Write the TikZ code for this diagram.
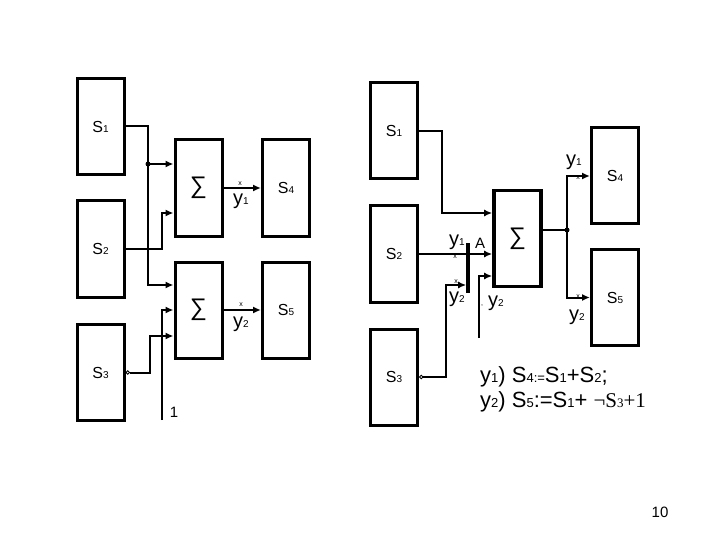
\documentclass[tikz,border=0pt]{standalone}
\usepackage{fontspec}
\setmainfont{Liberation Sans}
\newfontfamily\serifface{Liberation Serif}
\usetikzlibrary{positioning,arrows.meta,calc}
\newcommand{\subs}[1]{{\fontsize{10}{10}\selectfont #1}}
\newcommand{\esub}[1]{{\fontsize{13}{13}\selectfont #1}}
\newcommand{\sumsign}{{\fontsize{24}{24}\selectfont ∑}}
\tikzset{
  block/.style={draw,line width=3pt,minimum width=47pt,minimum height=96pt,
    inner sep=0pt,font=\fontsize{16}{16}\selectfont},
  sumblock/.style={block,line width=3.6pt},
  flow/.style={-{Latex[length=8pt,width=7pt]},line width=2pt},
  invflow/.style={{Circle[open,length=4.5pt,width=4.5pt,line width=1pt]}-{Latex[length=8pt,width=7pt]},line width=2pt},
  wire/.style={line width=2pt},
  bar/.style={line width=3.6pt},
  lbl/.style={font=\fontsize{20}{20}\selectfont,inner sep=0pt},
  eqn/.style={font=\fontsize{22}{22}\selectfont,inner sep=0pt,anchor=west},
  xmark/.style={font=\fontsize{7}{7}\selectfont,inner sep=0pt},
  dot/.style={circle,fill,inner sep=0pt,minimum size=5pt}
}
\begin{document}
\begin{tikzpicture}[x=1pt,y=-1pt]
  \useasboundingbox (0,0) rectangle (720,540);

  % left circuit
  \node[block] (s1L) at (100.5,126.5) {S\subs{1}};
  \node[block] (s2L) at (100.5,249) {S\subs{2}};
  \node[block] (s3L) at (100.5,372.5) {S\subs{3}};
  \node[block] (sumA) at (198.5,188) {\sumsign};
  \node[block] (s4L) at (286,188) {S\subs{4}};
  \node[block] (sumB) at (198.5,310) {\sumsign};
  \node[block] (s5L) at (286,310) {S\subs{5}};

  \coordinate (tapL) at (148,164);
  \coordinate (oneL) at (162,420);
  \draw[flow] (s1L.east) -| (148,285) -- (sumB.west |- 0,285);
  \node[dot] (tapdot) at (tapL) {};
  \draw[flow] (tapdot.center) -- (sumA.west |- tapL);
  \draw[flow] (s2L.east) -| (162,213) -- (sumA.west |- 0,213);
  \draw[flow] (oneL) |- (sumB.west);
  \draw[invflow] (s3L.east) -| (150,336) -- (sumB.west |- 0,336);
  \node[lbl,font=\fontsize{15}{15}\selectfont] (oneval) at (174,412) {1};

  \draw[flow] (sumA.east) -- (s4L.west);
  \node[lbl] (y1L) at (241,201) {y\subs{1}};
  \node[xmark] (x1L) at (240,184) {x};
  \draw[flow] (sumB.east) -- (s5L.west);
  \node[lbl] (y2L) at (241,324) {y\subs{2}};
  \node[xmark] (x2L) at (241,305) {x};

  % right circuit
  \node[block] (s1R) at (394,131) {S\subs{1}};
  \node[block] (s2R) at (394,254) {S\subs{2}};
  \node[block] (s3R) at (394,377) {S\subs{3}};
  \node[sumblock] (sumC) at (517.5,238.5) {\sumsign};
  \node[block] (s4R) at (615,176) {S\subs{4}};
  \node[block] (s5R) at (615,297.5) {S\subs{5}};

  \coordinate (barT) at (468,243);
  \coordinate (barB) at (468,293);
  \coordinate (y2in) at (479,338);
  \coordinate (forkR) at (567,230);
  \draw[flow] (s1R.east) -| (442,213) -- (sumC.west |- 0,213);
  \draw[flow] (s2R.east) -- (sumC.west |- s2R.east);
  \draw[bar] (barT) -- (barB);
  \draw[invflow] (s3R.east) -| (446,285) -- ($(barT |- 0,285)+(-1.8,0)$);
  \draw[flow] (y2in) |- (sumC.west |- 0,276);
  \draw[wire] (sumC.east |- forkR) -- (forkR);
  \node[dot] (forkdot) at (forkR) {};
  \draw[flow] (forkdot.center) |- (s4R.west);
  \draw[flow] (forkdot.center) |- (s5R.west);

  \node[lbl] (y1a) at (457,242) {y\subs{1}};
  \node[xmark] (x1a) at (455,257) {x};
  \node[lbl,font=\fontsize{15}{15}\selectfont] (Aval) at (480,243) {A};
  \node[lbl] (y2a) at (457,299) {y\subs{2}};
  \node[xmark] (x2a) at (456,282) {x};
  \node[xmark] (x2b) at (482,306) {,};
  \node[lbl] (y2b) at (496,303) {y\subs{2}};
  \node[lbl] (y1b) at (574,162) {y\subs{1}};
  \node[xmark] (x1b) at (578,178) {x};
  \node[lbl] (y2c) at (577,317) {y\subs{2}};
  \node[xmark] (x2c) at (578,297) {x};

  % equations
  \node[eqn] (eq1) at (480,377)
    {y\esub{1}) S\esub{4:=}S\esub{1}+S\esub{2};};
  \node[eqn] (eq2) at (480,402)
    {y\esub{2}) S\esub{5}:=S\esub{1}+ {\serifface\fontsize{21}{21}\selectfont ¬S\esub{3}+1}};

  \node[lbl,font=\fontsize{15}{15}\selectfont] (pagenum) at (660,512) {10};
\end{tikzpicture}
\end{document}
